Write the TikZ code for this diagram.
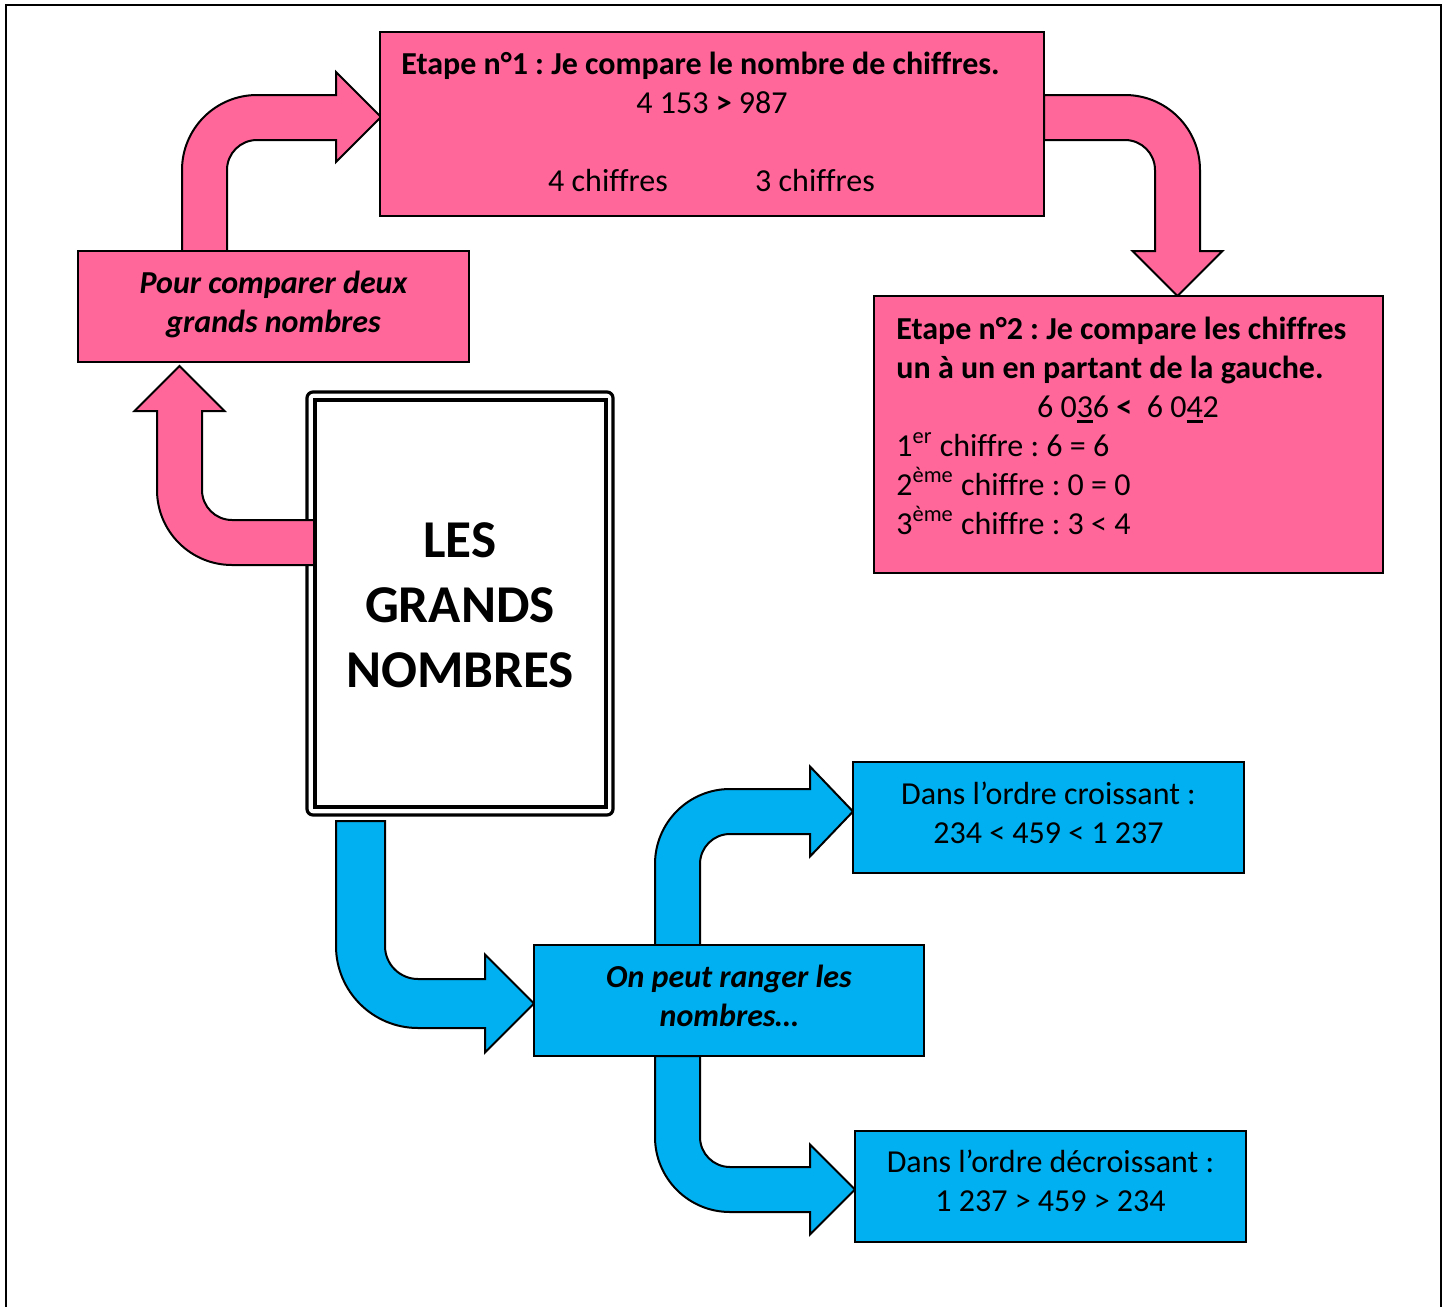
\documentclass[tikz,border=0pt]{standalone}
\usepackage{fontspec}
\setmainfont{Carlito}[Ligatures=NoCommon]
\frenchspacing
\usetikzlibrary{fit}
\definecolor{pinkc}{HTML}{FF6699}
\definecolor{bluec}{HTML}{00B0F0}
\newcommand\thickul[1]{\setbox0\hbox{#1}\rlap{\rule[-2.8pt]{\wd0}{1.3pt}}#1}
\begin{document}
\begin{tikzpicture}[x=0.5pt,y=-0.5pt,
  pinkbox/.style={draw=black, line width=1pt, fill=pinkc, inner sep=0pt},
  bluebox/.style={draw=black, line width=1pt, fill=bluec, inner sep=0pt},
  pinkarrow/.style={draw=black, line width=1pt, fill=pinkc, line join=miter},
  bluearrow/.style={draw=black, line width=1pt, fill=bluec, line join=miter},
  mainframe/.style={draw=black, line width=1.6pt, fill=white, inner sep=0pt},
  t/.style={font=\fontsize{16}{19.5}\selectfont, inner sep=0pt, anchor=base},
  tb/.style={t, font=\fontsize{16}{19.5}\selectfont\bfseries},
  tbi/.style={t, font=\fontsize{16}{19.5}\selectfont\bfseries\itshape},
  title/.style={font=\fontsize{26.6}{32.5}\selectfont\bfseries, inner sep=0pt, anchor=base}]

% page and outer frame
\fill[white] (0,0) rectangle (1447,1307);
\useasboundingbox (0,0) rectangle (1447,1307);
\draw[line width=1.2pt] (6,1307) -- (6,5) -- (1441,5) -- (1441,1307);

% bent block arrows
\path[pinkarrow] (227,251) -- (227,170) arc[start angle=180, end angle=270, radius=30]
  -- (336,140) -- (336,162) -- (381,117) -- (336,72) -- (336,95) -- (257,95)
  arc[start angle=270, end angle=180, radius=75] -- (182,251) -- cycle;
\path[pinkarrow] (1044,95) -- (1125,95) arc[start angle=270, end angle=360, radius=75]
  -- (1200,251) -- (1222.5,251) -- (1177.5,296) -- (1132.5,251) -- (1155,251) -- (1155,170)
  arc[start angle=0, end angle=-90, radius=30] -- (1044,140) -- cycle;
\path[bluearrow] (336,821) -- (385,821) -- (385,946) arc[start angle=180, end angle=90, radius=33]
  -- (485,979) -- (485,954.5) -- (534,1003.5) -- (485,1052.5) -- (485,1028) -- (418,1028)
  arc[start angle=90, end angle=180, radius=82] -- cycle;
\path[bluearrow] (700,945) -- (700,864) arc[start angle=180, end angle=270, radius=30]
  -- (810,834) -- (810,856.5) -- (853,811.5) -- (810,766.5) -- (810,789) -- (730,789)
  arc[start angle=270, end angle=180, radius=75] -- (655,945) -- cycle;
\path[bluearrow] (655,1056) -- (700,1056) -- (700,1137) arc[start angle=180, end angle=90, radius=30]
  -- (810,1167) -- (810,1144.5) -- (855,1189.5) -- (810,1234.5) -- (810,1212) -- (730,1212)
  arc[start angle=90, end angle=180, radius=75] -- cycle;

% boxes
\node[pinkbox, fit={(380,32) (1044,216)}] (etape1) {};
\node[pinkbox, fit={(78,251) (469,362)}] (pour) {};
\node[pinkbox, fit={(874,296) (1383,573)}] (etape2) {};
\node[bluebox, fit={(534,945) (924,1056)}] (ranger) {};
\node[bluebox, fit={(853,762) (1244,873)}] (croissant) {};
\node[bluebox, fit={(855,1131) (1246,1242)}] (decroissant) {};
\node[mainframe, rounded corners=3pt, fit={(307,392) (613,815)}] (main) {};
\node[mainframe, fit={(315,400) (606,807)}] (maininner) {};

% arrow from the main box up to the first box
\path[pinkarrow] (314,520) -- (232,520) arc[start angle=90, end angle=180, radius=30]
  -- (202,411) -- (224.5,411) -- (179.5,366) -- (134.5,411) -- (157,411) -- (157,490)
  arc[start angle=180, end angle=90, radius=75] -- (314,565) -- cycle;

% texts
\node[tb, anchor=base west] (e1a) at (401,74) {Etape n°1 : Je compare le nombre de chiffres.};
\node[t] (e1b) at (712,113) {4 153 \textbf{>} 987};
\node[t] (e1c) at (608,191) {4 chiffres};
\node[t] (e1d) at (815,191) {3 chiffres};

\node[tbi] (p1) at (273.5,293) {Pour comparer deux};
\node[tbi] (p2) at (273.5,332) {grands nombres};

\node[tb, anchor=base west] (e2a) at (896,339) {Etape n°2 : Je compare les chiffres};
\node[tb, anchor=base west] (e2b) at (896,378) {un à un en partant de la gauche.};
\node[t] (e2c) at (1128,417) {6 0\thickul{3}6 \textbf{<}\ \ 6 0\thickul{4}2};
\node[t, anchor=base west] (e2d) at (896,456) {1\textsuperscript{er} chiffre : 6 = 6};
\node[t, anchor=base west] (e2e) at (896,495) {2\textsuperscript{ème} chiffre : 0 = 0};
\node[t, anchor=base west] (e2f) at (896,534) {3\textsuperscript{ème} chiffre : 3 < 4};

\node[title] (m1) at (460,557) {LES};
\node[title] (m2) at (460,622) {GRANDS};
\node[title] (m3) at (460,687) {NOMBRES};

\node[tbi] (r1) at (729,987) {On peut ranger les};
\node[tbi] (r2) at (729,1026) {nombres…};

\node[t] (c1) at (1048.5,804) {Dans l’ordre croissant :};
\node[t] (c2) at (1048.5,843) {234 < 459 < 1 237};

\node[t] (d1) at (1050.5,1172) {Dans l’ordre décroissant :};
\node[t] (d2) at (1050.5,1211) {1 237 > 459 > 234};
\end{tikzpicture}
\end{document}
